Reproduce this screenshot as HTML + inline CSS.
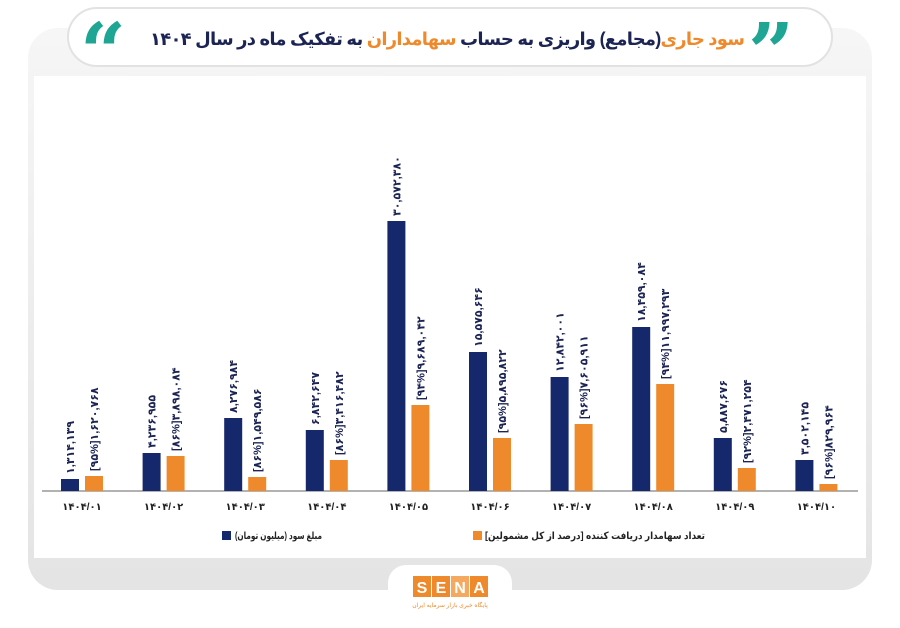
<!DOCTYPE html>
<html><head><meta charset="utf-8"><style>
body{margin:0;width:900px;height:623px;background:#fff;overflow:hidden;font-family:"Liberation Sans","Noto Sans CJK SC",sans-serif}
</style></head><body>
<svg width="900" height="623" viewBox="0 0 900 623" xmlns="http://www.w3.org/2000/svg" font-family="Liberation Sans, DejaVu Sans, sans-serif">
<defs><linearGradient id="g" x1="0" y1="0" x2="0" y2="1"><stop offset="0" stop-color="#f6f6f6"/><stop offset="1" stop-color="#e4e4e4"/></linearGradient></defs>
<rect x="28" y="28" width="844" height="562" rx="30" fill="url(#g)"/>
<rect x="34" y="76" width="832" height="482" fill="#fff"/>
<rect x="68" y="8" width="764" height="58" rx="29" fill="#fff" stroke="#e2e2e2" stroke-width="2"/>
<text x="748" y="80" font-size="80" font-weight="bold" fill="#1fa593" font-family="DejaVu Serif,serif">”</text>
<text x="80" y="80" font-size="80" font-weight="bold" fill="#1fa593" font-family="DejaVu Serif,serif">“</text>
<text x="745" y="45" font-size="18" font-weight="bold" text-anchor="start" direction="rtl" fill="#1c2454" textLength="595"><tspan fill="#ef8a2c">سود جاری</tspan>(مجامع) واریزی به حساب <tspan fill="#ef8a2c">سهامداران</tspan> به تفکیک ماه در سال ۱۴۰۴</text>
<line x1="42" y1="491" x2="858" y2="491" stroke="#999" stroke-width="1.5"/>
<g font-size="11" font-weight="bold" fill="#1c2454">
<g id="bars"></g>
</g>
<rect x="222" y="531" width="9" height="9" fill="#14286b"/>
<text x="235" y="539" font-size="10" font-weight="bold" fill="#222" textLength="87" lengthAdjust="spacingAndGlyphs">مبلغ سود (میلیون تومان)</text>
<rect x="473" y="531" width="9" height="9" fill="#ef8a2c"/>
<text x="485" y="539" font-size="10" font-weight="bold" fill="#222" textLength="220" lengthAdjust="spacingAndGlyphs">تعداد سهامدار دریافت کننده [درصد از کل مشمولین]</text>
<rect x="388" y="565" width="124" height="58" rx="18" fill="#fff"/>
<rect x="413" y="576" width="18" height="21" fill="#ef8a2c"/><rect x="432" y="576" width="18" height="21" fill="#ef8a2c"/><rect x="451" y="576" width="18" height="21" fill="#f4a860"/><rect x="470" y="576" width="18" height="21" fill="#ef8a2c"/>
<text x="422" y="593" font-size="16" font-weight="bold" fill="#fff" text-anchor="middle">S</text>
<text x="441" y="593" font-size="16" font-weight="bold" fill="#fff" text-anchor="middle">E</text>
<text x="460" y="593" font-size="16" font-weight="bold" fill="#fff" text-anchor="middle">N</text>
<text x="479" y="593" font-size="16" font-weight="bold" fill="#fff" text-anchor="middle">A</text>
<text x="450" y="607" font-size="6" fill="#ef8a2c" text-anchor="middle" direction="rtl">پایگاه خبری بازار سرمایه ایران</text>
</svg>
<script>
var d=[[479,476,"۱,۳۱۴,۱۳۹","[۹۵%]۱,۶۲۰,۷۶۸","۱۴۰۴/۰۱"],[453,456,"۴,۲۳۶,۹۵۵","[۸۶%]۳,۸۹۸,۰۸۴","۱۴۰۴/۰۲"],[418,477,"۸,۲۷۶,۹۸۴","[۸۶%]۱,۵۴۹,۵۸۶","۱۴۰۴/۰۳"],[430,460,"۶,۸۴۲,۶۴۷","[۸۶%]۳,۴۱۶,۴۸۲","۱۴۰۴/۰۴"],[221,405,"۳۰,۵۷۲,۳۸۰","[۹۴%]۹,۶۸۹,۰۴۲","۱۴۰۴/۰۵"],[352,438,"۱۵,۵۷۵,۶۴۶","[۹۵%]۵,۸۹۵,۸۲۲","۱۴۰۴/۰۶"],[377,424,"۱۲,۸۴۲,۰۰۱","[۹۶%]۷,۶۰۵,۹۱۱","۱۴۰۴/۰۷"],[327,384,"۱۸,۴۵۹,۰۸۴","[۹۴%]۱۱,۹۹۷,۲۹۳","۱۴۰۴/۰۸"],[438,468,"۵,۸۸۷,۶۷۶","[۹۲%]۲,۴۷۱,۲۵۴","۱۴۰۴/۰۹"],[460,484,"۳,۵۰۲,۱۴۵","[۹۶%]۸۲۹,۹۶۴","۱۴۰۴/۱۰"]];
var s="";
d.forEach(function(r,i){var x=61+i*81.6;
s+='<rect x="'+x+'" y="'+r[0]+'" width="18" height="'+(491-r[0])+'" fill="#14286b"/>';
s+='<rect x="'+(x+24)+'" y="'+r[1]+'" width="18" height="'+(491-r[1])+'" fill="#ef8a2c"/>';
s+='<text transform="translate('+(x+13)+','+(r[0]-5)+') rotate(-90)" style="unicode-bidi:bidi-override;direction:ltr">'+r[2]+'</text>';
s+='<text transform="translate('+(x+37)+','+(r[1]-5)+') rotate(-90)" style="unicode-bidi:bidi-override;direction:ltr">'+r[3]+'</text>';
s+='<text x="'+(x+21)+'" y="510" font-size="10" text-anchor="middle" fill="#222" style="unicode-bidi:bidi-override;direction:ltr">'+r[4]+'</text>';});
document.getElementById("bars").innerHTML=s;
</script>
</body></html>
